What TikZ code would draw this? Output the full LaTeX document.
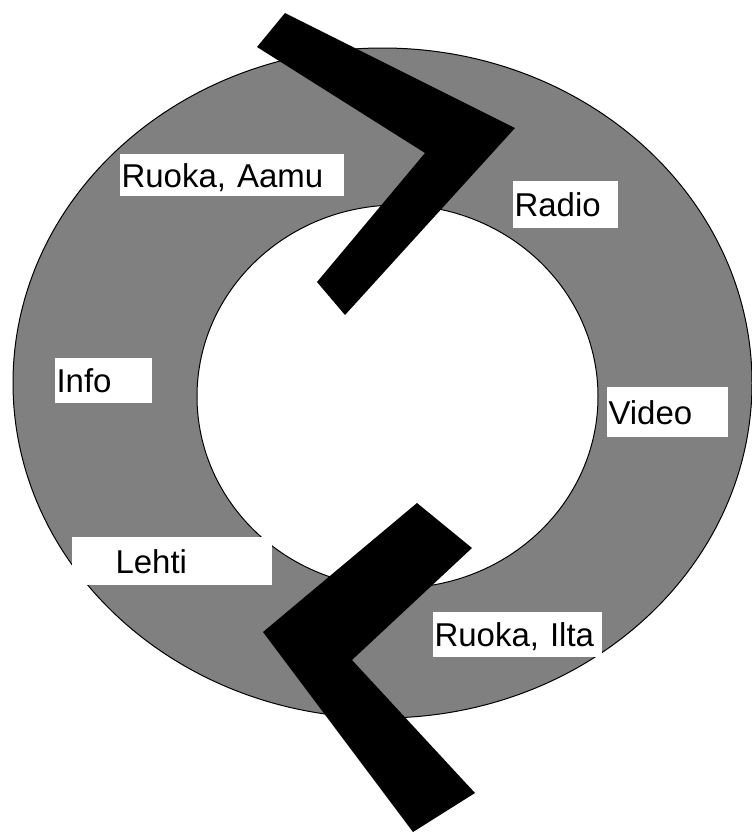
\documentclass[tikz,border=0pt]{standalone}
\usepackage{fontspec}
\setmainfont{Liberation Sans}
\definecolor{cgrey}{HTML}{808080}

\begin{document}
\begin{tikzpicture}[x=1pt,y=-1pt,
  lbl/.style={fill=white,inner xsep=1.5pt,inner ysep=0pt,align=left,
    font=\fontsize{33}{36}\selectfont,text height=24pt,text depth=0pt},
  ring/.style={draw=black,line width=1pt}]
  \useasboundingbox (0,0) rectangle (752,833);
  % the ring
  \draw[ring,fill=cgrey] (382.5,383) ellipse [x radius=369.5pt,y radius=335pt];
  \draw[ring,fill=white] (397.5,396.5) ellipse [x radius=200.5pt,y radius=191.5pt];
  % labels
  \node[lbl,text width=221pt,minimum height=42pt] (aamu) at (232,175) {Ruoka, Aamu};
  \node[lbl,text width=102pt,minimum height=47pt] (radio) at (565.5,204.5) {Radio};
  \node[lbl,text width=94pt,minimum height=45pt] (info) at (103.5,380.5) {Info};
  \node[lbl,text width=118pt,minimum height=50pt] (video) at (667.5,412) {Video};
  \node[lbl,text width=197pt,minimum height=48pt] (lehti) at (172,561) {\hspace*{42pt}Lehti};
  \node[lbl,text width=166pt,minimum height=45pt] (ilta) at (517.5,634.5) {Ruoka, Ilta};
  % chevrons
  \fill[black] (285,13) -- (515,128) -- (345,315) -- (317,282) -- (425,153) -- (257,47) -- cycle;
  \fill[black] (417,503) -- (472,548) -- (352,660) -- (475,793) -- (413,832) -- (263,632) -- cycle;
\end{tikzpicture}
\end{document}
